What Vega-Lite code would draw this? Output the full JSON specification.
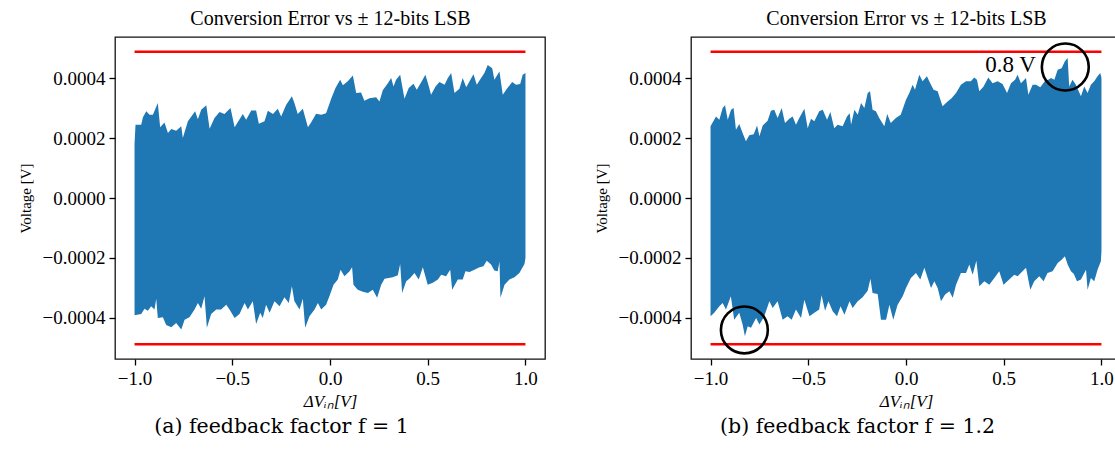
{
"$schema":"https://vega.github.io/schema/vega-lite/v6.json",
"background":"white",
"padding":{"left":17,"top":7,"right":0,"bottom":0},
"config":{
 "view":{"stroke":"#111","strokeWidth":1.3},
 "axis":{"labelFont":"Liberation Serif","labelFontSize":19,"labelColor":"black","tickColor":"black","tickSize":6,"tickWidth":1.3,"domain":false,"grid":false,"titleFont":"Liberation Serif","titleFontWeight":"normal","titleColor":"black","labelPadding":4},
 "title":{"font":"DejaVu Serif","fontWeight":"normal","color":"black"}
},
"datasets":{
"lsb":[{"s":"top","x":-1,"v":0.000488},{"s":"top","x":1,"v":0.000488},{"s":"bot","x":-1,"v":-0.000488},{"s":"bot","x":1,"v":-0.000488}],
"ann":[{"kind":"circle","x":0.815,"v":0.000437,"label":""},{"kind":"circle","x":-0.827,"v":-0.00044,"label":""},{"kind":"text","x":0.665,"v":0.000443,"label":"0.8 V"}],
"env":[
{"p":"a","s":"u","x":-1.0,"v":0.00018},{"p":"a","s":"u","x":-0.995,"v":0.000244},{"p":"a","s":"u","x":-0.966,"v":0.000244},{"p":"a","s":"u","x":-0.957,"v":0.000269},{"p":"a","s":"u","x":-0.94,"v":0.000289},{"p":"a","s":"u","x":-0.923,"v":0.000278},{"p":"a","s":"u","x":-0.906,"v":0.000278},{"p":"a","s":"u","x":-0.881,"v":0.000317},{"p":"a","s":"u","x":-0.869,"v":0.000236},{"p":"a","s":"u","x":-0.847,"v":0.000252},{"p":"a","s":"u","x":-0.829,"v":0.000217},{"p":"a","s":"u","x":-0.812,"v":0.00023},{"p":"a","s":"u","x":-0.787,"v":0.000224},{"p":"a","s":"u","x":-0.761,"v":0.000239},{"p":"a","s":"u","x":-0.753,"v":0.0002},{"p":"a","s":"u","x":-0.727,"v":0.000256},{"p":"a","s":"u","x":-0.69,"v":0.000289},{"p":"a","s":"u","x":-0.676,"v":0.000263},{"p":"a","s":"u","x":-0.659,"v":0.000294},{"p":"a","s":"u","x":-0.633,"v":0.000309},{"p":"a","s":"u","x":-0.616,"v":0.000231},{"p":"a","s":"u","x":-0.591,"v":0.000267},{"p":"a","s":"u","x":-0.565,"v":0.000287},{"p":"a","s":"u","x":-0.54,"v":0.00028},{"p":"a","s":"u","x":-0.509,"v":0.0003},{"p":"a","s":"u","x":-0.488,"v":0.000236},{"p":"a","s":"u","x":-0.446,"v":0.00028},{"p":"a","s":"u","x":-0.429,"v":0.000261},{"p":"a","s":"u","x":-0.403,"v":0.000292},{"p":"a","s":"u","x":-0.378,"v":0.000292},{"p":"a","s":"u","x":-0.364,"v":0.000248},{"p":"a","s":"u","x":-0.335,"v":0.000256},{"p":"a","s":"u","x":-0.318,"v":0.000291},{"p":"a","s":"u","x":-0.292,"v":0.00028},{"p":"a","s":"u","x":-0.267,"v":0.000298},{"p":"a","s":"u","x":-0.25,"v":0.000272},{"p":"a","s":"u","x":-0.224,"v":0.000311},{"p":"a","s":"u","x":-0.195,"v":0.000339},{"p":"a","s":"u","x":-0.182,"v":0.000317},{"p":"a","s":"u","x":-0.165,"v":0.00028},{"p":"a","s":"u","x":-0.139,"v":0.000298},{"p":"a","s":"u","x":-0.113,"v":0.000236},{"p":"a","s":"u","x":-0.096,"v":0.000253},{"p":"a","s":"u","x":-0.071,"v":0.000281},{"p":"a","s":"u","x":-0.045,"v":0.000278},{"p":"a","s":"u","x":-0.02,"v":0.000283},{"p":"a","s":"u","x":0.006,"v":0.000331},{"p":"a","s":"u","x":0.028,"v":0.000367},{"p":"a","s":"u","x":0.052,"v":0.000394},{"p":"a","s":"u","x":0.066,"v":0.000376},{"p":"a","s":"u","x":0.091,"v":0.000389},{"p":"a","s":"u","x":0.117,"v":0.000409},{"p":"a","s":"u","x":0.134,"v":0.00035},{"p":"a","s":"u","x":0.159,"v":0.000352},{"p":"a","s":"u","x":0.176,"v":0.000324},{"p":"a","s":"u","x":0.202,"v":0.000333},{"p":"a","s":"u","x":0.236,"v":0.000336},{"p":"a","s":"u","x":0.253,"v":0.000322},{"p":"a","s":"u","x":0.27,"v":0.000359},{"p":"a","s":"u","x":0.296,"v":0.000383},{"p":"a","s":"u","x":0.313,"v":0.0004},{"p":"a","s":"u","x":0.325,"v":0.000372},{"p":"a","s":"u","x":0.338,"v":0.000394},{"p":"a","s":"u","x":0.359,"v":0.000411},{"p":"a","s":"u","x":0.381,"v":0.000331},{"p":"a","s":"u","x":0.403,"v":0.000367},{"p":"a","s":"u","x":0.427,"v":0.000381},{"p":"a","s":"u","x":0.444,"v":0.000361},{"p":"a","s":"u","x":0.471,"v":0.000391},{"p":"a","s":"u","x":0.488,"v":0.000411},{"p":"a","s":"u","x":0.506,"v":0.000372},{"p":"a","s":"u","x":0.517,"v":0.000344},{"p":"a","s":"u","x":0.54,"v":0.000372},{"p":"a","s":"u","x":0.56,"v":0.000387},{"p":"a","s":"u","x":0.586,"v":0.000378},{"p":"a","s":"u","x":0.603,"v":0.0004},{"p":"a","s":"u","x":0.62,"v":0.000417},{"p":"a","s":"u","x":0.637,"v":0.00035},{"p":"a","s":"u","x":0.662,"v":0.000364},{"p":"a","s":"u","x":0.679,"v":0.0004},{"p":"a","s":"u","x":0.697,"v":0.000369},{"p":"a","s":"u","x":0.714,"v":0.000389},{"p":"a","s":"u","x":0.734,"v":0.000413},{"p":"a","s":"u","x":0.751,"v":0.000378},{"p":"a","s":"u","x":0.773,"v":0.0004},{"p":"a","s":"u","x":0.79,"v":0.000417},{"p":"a","s":"u","x":0.807,"v":0.000444},{"p":"a","s":"u","x":0.83,"v":0.000433},{"p":"a","s":"u","x":0.841,"v":0.000394},{"p":"a","s":"u","x":0.867,"v":0.000422},{"p":"a","s":"u","x":0.884,"v":0.000344},{"p":"a","s":"u","x":0.905,"v":0.000364},{"p":"a","s":"u","x":0.932,"v":0.000387},{"p":"a","s":"u","x":0.952,"v":0.000378},{"p":"a","s":"u","x":0.973,"v":0.00038},{"p":"a","s":"u","x":0.986,"v":0.000411},{"p":"a","s":"u","x":1.0,"v":0.000417},
{"p":"a","s":"l","x":-1.0,"v":-0.000391},{"p":"a","s":"l","x":-0.966,"v":-0.000387},{"p":"a","s":"l","x":-0.949,"v":-0.000369},{"p":"a","s":"l","x":-0.932,"v":-0.000376},{"p":"a","s":"l","x":-0.915,"v":-0.000361},{"p":"a","s":"l","x":-0.898,"v":-0.000372},{"p":"a","s":"l","x":-0.889,"v":-0.000336},{"p":"a","s":"l","x":-0.881,"v":-0.0004},{"p":"a","s":"l","x":-0.855,"v":-0.000398},{"p":"a","s":"l","x":-0.838,"v":-0.000424},{"p":"a","s":"l","x":-0.812,"v":-0.000431},{"p":"a","s":"l","x":-0.787,"v":-0.000417},{"p":"a","s":"l","x":-0.761,"v":-0.000439},{"p":"a","s":"l","x":-0.744,"v":-0.000406},{"p":"a","s":"l","x":-0.719,"v":-0.000398},{"p":"a","s":"l","x":-0.693,"v":-0.000372},{"p":"a","s":"l","x":-0.676,"v":-0.00035},{"p":"a","s":"l","x":-0.659,"v":-0.000369},{"p":"a","s":"l","x":-0.642,"v":-0.000328},{"p":"a","s":"l","x":-0.63,"v":-0.000433},{"p":"a","s":"l","x":-0.608,"v":-0.000387},{"p":"a","s":"l","x":-0.582,"v":-0.000372},{"p":"a","s":"l","x":-0.557,"v":-0.000372},{"p":"a","s":"l","x":-0.531,"v":-0.000356},{"p":"a","s":"l","x":-0.514,"v":-0.000372},{"p":"a","s":"l","x":-0.488,"v":-0.0004},{"p":"a","s":"l","x":-0.463,"v":-0.000387},{"p":"a","s":"l","x":-0.437,"v":-0.00035},{"p":"a","s":"l","x":-0.42,"v":-0.000372},{"p":"a","s":"l","x":-0.395,"v":-0.000344},{"p":"a","s":"l","x":-0.378,"v":-0.00042},{"p":"a","s":"l","x":-0.357,"v":-0.000383},{"p":"a","s":"l","x":-0.344,"v":-0.0004},{"p":"a","s":"l","x":-0.327,"v":-0.000356},{"p":"a","s":"l","x":-0.309,"v":-0.000383},{"p":"a","s":"l","x":-0.284,"v":-0.000344},{"p":"a","s":"l","x":-0.258,"v":-0.000361},{"p":"a","s":"l","x":-0.233,"v":-0.000331},{"p":"a","s":"l","x":-0.211,"v":-0.00035},{"p":"a","s":"l","x":-0.195,"v":-0.000294},{"p":"a","s":"l","x":-0.182,"v":-0.000344},{"p":"a","s":"l","x":-0.156,"v":-0.000372},{"p":"a","s":"l","x":-0.139,"v":-0.000336},{"p":"a","s":"l","x":-0.127,"v":-0.000433},{"p":"a","s":"l","x":-0.105,"v":-0.000394},{"p":"a","s":"l","x":-0.079,"v":-0.000372},{"p":"a","s":"l","x":-0.062,"v":-0.00035},{"p":"a","s":"l","x":-0.045,"v":-0.000372},{"p":"a","s":"l","x":-0.02,"v":-0.000356},{"p":"a","s":"l","x":-0.003,"v":-0.000328},{"p":"a","s":"l","x":0.018,"v":-0.000289},{"p":"a","s":"l","x":0.04,"v":-0.000272},{"p":"a","s":"l","x":0.054,"v":-0.000239},{"p":"a","s":"l","x":0.074,"v":-0.000261},{"p":"a","s":"l","x":0.1,"v":-0.000244},{"p":"a","s":"l","x":0.113,"v":-0.000231},{"p":"a","s":"l","x":0.12,"v":-0.000289},{"p":"a","s":"l","x":0.142,"v":-0.000306},{"p":"a","s":"l","x":0.168,"v":-0.000313},{"p":"a","s":"l","x":0.194,"v":-0.000317},{"p":"a","s":"l","x":0.219,"v":-0.000306},{"p":"a","s":"l","x":0.241,"v":-0.000333},{"p":"a","s":"l","x":0.262,"v":-0.000289},{"p":"a","s":"l","x":0.279,"v":-0.000269},{"p":"a","s":"l","x":0.321,"v":-0.000264},{"p":"a","s":"l","x":0.347,"v":-0.000258},{"p":"a","s":"l","x":0.359,"v":-0.00022},{"p":"a","s":"l","x":0.369,"v":-0.000317},{"p":"a","s":"l","x":0.39,"v":-0.000278},{"p":"a","s":"l","x":0.41,"v":-0.000267},{"p":"a","s":"l","x":0.432,"v":-0.00025},{"p":"a","s":"l","x":0.454,"v":-0.000272},{"p":"a","s":"l","x":0.475,"v":-0.000231},{"p":"a","s":"l","x":0.5,"v":-0.000289},{"p":"a","s":"l","x":0.526,"v":-0.000283},{"p":"a","s":"l","x":0.552,"v":-0.000272},{"p":"a","s":"l","x":0.569,"v":-0.000256},{"p":"a","s":"l","x":0.594,"v":-0.000261},{"p":"a","s":"l","x":0.615,"v":-0.000239},{"p":"a","s":"l","x":0.625,"v":-0.000306},{"p":"a","s":"l","x":0.654,"v":-0.000272},{"p":"a","s":"l","x":0.679,"v":-0.000272},{"p":"a","s":"l","x":0.693,"v":-0.000244},{"p":"a","s":"l","x":0.714,"v":-0.000247},{"p":"a","s":"l","x":0.739,"v":-0.000239},{"p":"a","s":"l","x":0.765,"v":-0.000231},{"p":"a","s":"l","x":0.785,"v":-0.000228},{"p":"a","s":"l","x":0.802,"v":-0.000209},{"p":"a","s":"l","x":0.824,"v":-0.000222},{"p":"a","s":"l","x":0.841,"v":-0.000242},{"p":"a","s":"l","x":0.858,"v":-0.000244},{"p":"a","s":"l","x":0.867,"v":-0.000213},{"p":"a","s":"l","x":0.872,"v":-0.000333},{"p":"a","s":"l","x":0.893,"v":-0.000289},{"p":"a","s":"l","x":0.918,"v":-0.000272},{"p":"a","s":"l","x":0.944,"v":-0.000264},{"p":"a","s":"l","x":0.969,"v":-0.00025},{"p":"a","s":"l","x":0.995,"v":-0.00022},{"p":"a","s":"l","x":1.0,"v":-0.0002},
{"p":"b","s":"u","x":-1.0,"v":0.000239},{"p":"b","s":"u","x":-0.972,"v":0.000272},{"p":"b","s":"u","x":-0.955,"v":0.000261},{"p":"b","s":"u","x":-0.938,"v":0.0003},{"p":"b","s":"u","x":-0.926,"v":0.000309},{"p":"b","s":"u","x":-0.912,"v":0.000261},{"p":"b","s":"u","x":-0.895,"v":0.000294},{"p":"b","s":"u","x":-0.882,"v":0.0003},{"p":"b","s":"u","x":-0.87,"v":0.000228},{"p":"b","s":"u","x":-0.853,"v":0.000247},{"p":"b","s":"u","x":-0.836,"v":0.000217},{"p":"b","s":"u","x":-0.819,"v":0.000189},{"p":"b","s":"u","x":-0.802,"v":0.000209},{"p":"b","s":"u","x":-0.779,"v":0.000213},{"p":"b","s":"u","x":-0.762,"v":0.000242},{"p":"b","s":"u","x":-0.75,"v":0.000206},{"p":"b","s":"u","x":-0.733,"v":0.000242},{"p":"b","s":"u","x":-0.708,"v":0.000258},{"p":"b","s":"u","x":-0.691,"v":0.000291},{"p":"b","s":"u","x":-0.674,"v":0.000294},{"p":"b","s":"u","x":-0.657,"v":0.000267},{"p":"b","s":"u","x":-0.636,"v":0.0003},{"p":"b","s":"u","x":-0.619,"v":0.00025},{"p":"b","s":"u","x":-0.597,"v":0.000264},{"p":"b","s":"u","x":-0.58,"v":0.000272},{"p":"b","s":"u","x":-0.563,"v":0.000244},{"p":"b","s":"u","x":-0.546,"v":0.000267},{"p":"b","s":"u","x":-0.52,"v":0.000298},{"p":"b","s":"u","x":-0.503,"v":0.000233},{"p":"b","s":"u","x":-0.486,"v":0.000264},{"p":"b","s":"u","x":-0.469,"v":0.000256},{"p":"b","s":"u","x":-0.444,"v":0.000289},{"p":"b","s":"u","x":-0.426,"v":0.000294},{"p":"b","s":"u","x":-0.404,"v":0.000261},{"p":"b","s":"u","x":-0.387,"v":0.000287},{"p":"b","s":"u","x":-0.367,"v":0.000233},{"p":"b","s":"u","x":-0.35,"v":0.000244},{"p":"b","s":"u","x":-0.324,"v":0.000239},{"p":"b","s":"u","x":-0.302,"v":0.000272},{"p":"b","s":"u","x":-0.288,"v":0.000283},{"p":"b","s":"u","x":-0.281,"v":0.000244},{"p":"b","s":"u","x":-0.264,"v":0.000294},{"p":"b","s":"u","x":-0.247,"v":0.000278},{"p":"b","s":"u","x":-0.23,"v":0.000317},{"p":"b","s":"u","x":-0.213,"v":0.0003},{"p":"b","s":"u","x":-0.196,"v":0.00035},{"p":"b","s":"u","x":-0.184,"v":0.000356},{"p":"b","s":"u","x":-0.171,"v":0.000294},{"p":"b","s":"u","x":-0.154,"v":0.000289},{"p":"b","s":"u","x":-0.137,"v":0.000267},{"p":"b","s":"u","x":-0.111,"v":0.000239},{"p":"b","s":"u","x":-0.096,"v":0.00028},{"p":"b","s":"u","x":-0.078,"v":0.00025},{"p":"b","s":"u","x":-0.052,"v":0.000267},{"p":"b","s":"u","x":-0.027,"v":0.000278},{"p":"b","s":"u","x":0.0,"v":0.000328},{"p":"b","s":"u","x":0.017,"v":0.00035},{"p":"b","s":"u","x":0.034,"v":0.000378},{"p":"b","s":"u","x":0.046,"v":0.000361},{"p":"b","s":"u","x":0.068,"v":0.000411},{"p":"b","s":"u","x":0.085,"v":0.000389},{"p":"b","s":"u","x":0.107,"v":0.000406},{"p":"b","s":"u","x":0.124,"v":0.000383},{"p":"b","s":"u","x":0.141,"v":0.000361},{"p":"b","s":"u","x":0.162,"v":0.000356},{"p":"b","s":"u","x":0.187,"v":0.000306},{"p":"b","s":"u","x":0.213,"v":0.000322},{"p":"b","s":"u","x":0.233,"v":0.000333},{"p":"b","s":"u","x":0.256,"v":0.00035},{"p":"b","s":"u","x":0.281,"v":0.000378},{"p":"b","s":"u","x":0.307,"v":0.000389},{"p":"b","s":"u","x":0.332,"v":0.000389},{"p":"b","s":"u","x":0.349,"v":0.000402},{"p":"b","s":"u","x":0.363,"v":0.000394},{"p":"b","s":"u","x":0.375,"v":0.000356},{"p":"b","s":"u","x":0.397,"v":0.000372},{"p":"b","s":"u","x":0.421,"v":0.000402},{"p":"b","s":"u","x":0.443,"v":0.000383},{"p":"b","s":"u","x":0.469,"v":0.000389},{"p":"b","s":"u","x":0.494,"v":0.00038},{"p":"b","s":"u","x":0.517,"v":0.00035},{"p":"b","s":"u","x":0.537,"v":0.000383},{"p":"b","s":"u","x":0.558,"v":0.000394},{"p":"b","s":"u","x":0.571,"v":0.000411},{"p":"b","s":"u","x":0.588,"v":0.000383},{"p":"b","s":"u","x":0.614,"v":0.0004},{"p":"b","s":"u","x":0.626,"v":0.000344},{"p":"b","s":"u","x":0.648,"v":0.000378},{"p":"b","s":"u","x":0.665,"v":0.000378},{"p":"b","s":"u","x":0.687,"v":0.000369},{"p":"b","s":"u","x":0.71,"v":0.000389},{"p":"b","s":"u","x":0.728,"v":0.000394},{"p":"b","s":"u","x":0.742,"v":0.0004},{"p":"b","s":"u","x":0.759,"v":0.000394},{"p":"b","s":"u","x":0.776,"v":0.000428},{"p":"b","s":"u","x":0.796,"v":0.000433},{"p":"b","s":"u","x":0.813,"v":0.000456},{"p":"b","s":"u","x":0.827,"v":0.000467},{"p":"b","s":"u","x":0.835,"v":0.000372},{"p":"b","s":"u","x":0.852,"v":0.000394},{"p":"b","s":"u","x":0.869,"v":0.000378},{"p":"b","s":"u","x":0.895,"v":0.000339},{"p":"b","s":"u","x":0.912,"v":0.000372},{"p":"b","s":"u","x":0.929,"v":0.00035},{"p":"b","s":"u","x":0.946,"v":0.000378},{"p":"b","s":"u","x":0.963,"v":0.000389},{"p":"b","s":"u","x":0.98,"v":0.000406},{"p":"b","s":"u","x":0.994,"v":0.000417},{"p":"b","s":"u","x":1.0,"v":0.0004},
{"p":"b","s":"l","x":-1.0,"v":-0.000394},{"p":"b","s":"l","x":-0.981,"v":-0.000383},{"p":"b","s":"l","x":-0.955,"v":-0.000361},{"p":"b","s":"l","x":-0.938,"v":-0.00035},{"p":"b","s":"l","x":-0.921,"v":-0.000372},{"p":"b","s":"l","x":-0.896,"v":-0.000328},{"p":"b","s":"l","x":-0.879,"v":-0.000406},{"p":"b","s":"l","x":-0.853,"v":-0.000383},{"p":"b","s":"l","x":-0.836,"v":-0.000422},{"p":"b","s":"l","x":-0.824,"v":-0.000461},{"p":"b","s":"l","x":-0.81,"v":-0.000428},{"p":"b","s":"l","x":-0.793,"v":-0.000433},{"p":"b","s":"l","x":-0.767,"v":-0.0004},{"p":"b","s":"l","x":-0.75,"v":-0.000422},{"p":"b","s":"l","x":-0.725,"v":-0.000394},{"p":"b","s":"l","x":-0.699,"v":-0.000344},{"p":"b","s":"l","x":-0.682,"v":-0.000367},{"p":"b","s":"l","x":-0.657,"v":-0.000344},{"p":"b","s":"l","x":-0.631,"v":-0.000406},{"p":"b","s":"l","x":-0.606,"v":-0.000394},{"p":"b","s":"l","x":-0.585,"v":-0.000406},{"p":"b","s":"l","x":-0.563,"v":-0.000372},{"p":"b","s":"l","x":-0.537,"v":-0.0004},{"p":"b","s":"l","x":-0.52,"v":-0.000339},{"p":"b","s":"l","x":-0.494,"v":-0.000394},{"p":"b","s":"l","x":-0.469,"v":-0.000383},{"p":"b","s":"l","x":-0.444,"v":-0.000372},{"p":"b","s":"l","x":-0.432,"v":-0.000324},{"p":"b","s":"l","x":-0.414,"v":-0.000376},{"p":"b","s":"l","x":-0.397,"v":-0.000344},{"p":"b","s":"l","x":-0.375,"v":-0.000378},{"p":"b","s":"l","x":-0.353,"v":-0.000394},{"p":"b","s":"l","x":-0.335,"v":-0.000361},{"p":"b","s":"l","x":-0.315,"v":-0.000389},{"p":"b","s":"l","x":-0.289,"v":-0.000344},{"p":"b","s":"l","x":-0.273,"v":-0.000367},{"p":"b","s":"l","x":-0.247,"v":-0.000344},{"p":"b","s":"l","x":-0.222,"v":-0.000331},{"p":"b","s":"l","x":-0.196,"v":-0.000309},{"p":"b","s":"l","x":-0.182,"v":-0.000269},{"p":"b","s":"l","x":-0.171,"v":-0.000317},{"p":"b","s":"l","x":-0.145,"v":-0.00032},{"p":"b","s":"l","x":-0.128,"v":-0.000406},{"p":"b","s":"l","x":-0.102,"v":-0.000406},{"p":"b","s":"l","x":-0.085,"v":-0.000356},{"p":"b","s":"l","x":-0.065,"v":-0.000406},{"p":"b","s":"l","x":-0.043,"v":-0.000356},{"p":"b","s":"l","x":-0.017,"v":-0.000328},{"p":"b","s":"l","x":0.0,"v":-0.0003},{"p":"b","s":"l","x":0.025,"v":-0.000267},{"p":"b","s":"l","x":0.051,"v":-0.00025},{"p":"b","s":"l","x":0.073,"v":-0.000272},{"p":"b","s":"l","x":0.094,"v":-0.000233},{"p":"b","s":"l","x":0.111,"v":-0.000267},{"p":"b","s":"l","x":0.128,"v":-0.0003},{"p":"b","s":"l","x":0.145,"v":-0.000278},{"p":"b","s":"l","x":0.162,"v":-0.0003},{"p":"b","s":"l","x":0.179,"v":-0.000344},{"p":"b","s":"l","x":0.2,"v":-0.000322},{"p":"b","s":"l","x":0.222,"v":-0.000311},{"p":"b","s":"l","x":0.239,"v":-0.000333},{"p":"b","s":"l","x":0.256,"v":-0.000289},{"p":"b","s":"l","x":0.281,"v":-0.00025},{"p":"b","s":"l","x":0.307,"v":-0.00025},{"p":"b","s":"l","x":0.324,"v":-0.000222},{"p":"b","s":"l","x":0.341,"v":-0.000256},{"p":"b","s":"l","x":0.36,"v":-0.000209},{"p":"b","s":"l","x":0.375,"v":-0.000294},{"p":"b","s":"l","x":0.401,"v":-0.000278},{"p":"b","s":"l","x":0.426,"v":-0.000289},{"p":"b","s":"l","x":0.452,"v":-0.000267},{"p":"b","s":"l","x":0.477,"v":-0.000244},{"p":"b","s":"l","x":0.499,"v":-0.000289},{"p":"b","s":"l","x":0.528,"v":-0.000272},{"p":"b","s":"l","x":0.554,"v":-0.000256},{"p":"b","s":"l","x":0.571,"v":-0.000261},{"p":"b","s":"l","x":0.596,"v":-0.000244},{"p":"b","s":"l","x":0.614,"v":-0.000233},{"p":"b","s":"l","x":0.636,"v":-0.000306},{"p":"b","s":"l","x":0.656,"v":-0.000278},{"p":"b","s":"l","x":0.682,"v":-0.000261},{"p":"b","s":"l","x":0.704,"v":-0.000278},{"p":"b","s":"l","x":0.724,"v":-0.00025},{"p":"b","s":"l","x":0.75,"v":-0.000244},{"p":"b","s":"l","x":0.776,"v":-0.000217},{"p":"b","s":"l","x":0.796,"v":-0.000206},{"p":"b","s":"l","x":0.813,"v":-0.000194},{"p":"b","s":"l","x":0.827,"v":-0.000222},{"p":"b","s":"l","x":0.844,"v":-0.000244},{"p":"b","s":"l","x":0.858,"v":-0.000253},{"p":"b","s":"l","x":0.875,"v":-0.000278},{"p":"b","s":"l","x":0.895,"v":-0.000272},{"p":"b","s":"l","x":0.921,"v":-0.000239},{"p":"b","s":"l","x":0.929,"v":-0.000306},{"p":"b","s":"l","x":0.946,"v":-0.000267},{"p":"b","s":"l","x":0.963,"v":-0.000278},{"p":"b","s":"l","x":0.98,"v":-0.000239},{"p":"b","s":"l","x":0.997,"v":-0.000211},{"p":"b","s":"l","x":1.0,"v":-0.000178}
]},
"spacing":146,
"bounds":"flush",
"hconcat":[
{
 "width":430,"height":322,
 "title":{"text":"(a) feedback factor f = 1","orient":"bottom","anchor":"middle","frame":"bounds","fontSize":20.5,"offset":8},
 "resolve":{"axis":{"x":"independent"}},
 "layer":[
  {"data":{"name":"env"},"transform":[{"filter":"datum.p == 'a'"}],
   "mark":{"type":"area","color":"#1f77b4","clip":true},
   "encoding":{
    "x":{"field":"x","type":"quantitative","scale":{"domain":[-1.1,1.1],"nice":false,"zero":false},"axis":{"orient":"bottom","values":[-1,-0.5,0,0.5,1],"format":".1f","title":"ΔVᵢₙ[V]","titleFontSize":17,"titleFontStyle":"italic","titlePadding":5}},
    "y":{"field":"v","type":"quantitative","stack":null,"scale":{"domain":[-0.000537,0.000537],"nice":false,"zero":false},"axis":{"values":[-0.0004,-0.0002,0,0.0002,0.0004],"format":".4f","title":"Voltage [V]","titleFontSize":15,"titlePadding":9}},
    "detail":{"field":"s"}}},
  {"data":{"name":"lsb"},
   "mark":{"type":"line","color":"#ff0000","strokeWidth":2.5},
   "encoding":{
    "x":{"field":"x","type":"quantitative","axis":{"orient":"top","labels":false,"ticks":false,"domain":false,"title":"Conversion Error vs ± 12-bits LSB","titleFontSize":20,"titlePadding":9}},
    "y":{"field":"v","type":"quantitative"},
    "detail":{"field":"s"}}}
 ]
},
{
 "width":430,"height":322,
 "title":{"text":"(b) feedback factor f = 1.2","orient":"bottom","anchor":"middle","frame":"bounds","fontSize":20.5,"offset":8},
 "resolve":{"axis":{"x":"independent"}},
 "layer":[
  {"data":{"name":"env"},"transform":[{"filter":"datum.p == 'b'"}],
   "mark":{"type":"area","color":"#1f77b4","clip":true},
   "encoding":{
    "x":{"field":"x","type":"quantitative","scale":{"domain":[-1.1,1.1],"nice":false,"zero":false},"axis":{"orient":"bottom","values":[-1,-0.5,0,0.5,1],"format":".1f","title":"ΔVᵢₙ[V]","titleFontSize":17,"titleFontStyle":"italic","titlePadding":5}},
    "y":{"field":"v","type":"quantitative","stack":null,"scale":{"domain":[-0.000537,0.000537],"nice":false,"zero":false},"axis":{"values":[-0.0004,-0.0002,0,0.0002,0.0004],"format":".4f","title":"Voltage [V]","titleFontSize":15,"titlePadding":9}},
    "detail":{"field":"s"}}},
  {"data":{"name":"lsb"},
   "mark":{"type":"line","color":"#ff0000","strokeWidth":2.5},
   "encoding":{
    "x":{"field":"x","type":"quantitative","axis":{"orient":"top","labels":false,"ticks":false,"domain":false,"title":"Conversion Error vs ± 12-bits LSB","titleFontSize":20,"titlePadding":9}},
    "y":{"field":"v","type":"quantitative"},
    "detail":{"field":"s"}}},
  {"data":{"name":"ann"},"transform":[{"filter":"datum.kind == 'circle'"}],
   "mark":{"type":"point","shape":"circle","filled":false,"color":"black","strokeWidth":2.6,"size":2200,"opacity":1},
   "encoding":{
    "x":{"field":"x","type":"quantitative","axis":null},
    "y":{"field":"v","type":"quantitative"}}},
  {"data":{"name":"ann"},"transform":[{"filter":"datum.kind == 'text'"}],
   "mark":{"type":"text","align":"right","baseline":"middle","font":"Liberation Serif","fontSize":23,"color":"black"},
   "encoding":{
    "x":{"field":"x","type":"quantitative","axis":null},
    "y":{"field":"v","type":"quantitative"},
    "text":{"field":"label"}}}
 ]
}
]
}
